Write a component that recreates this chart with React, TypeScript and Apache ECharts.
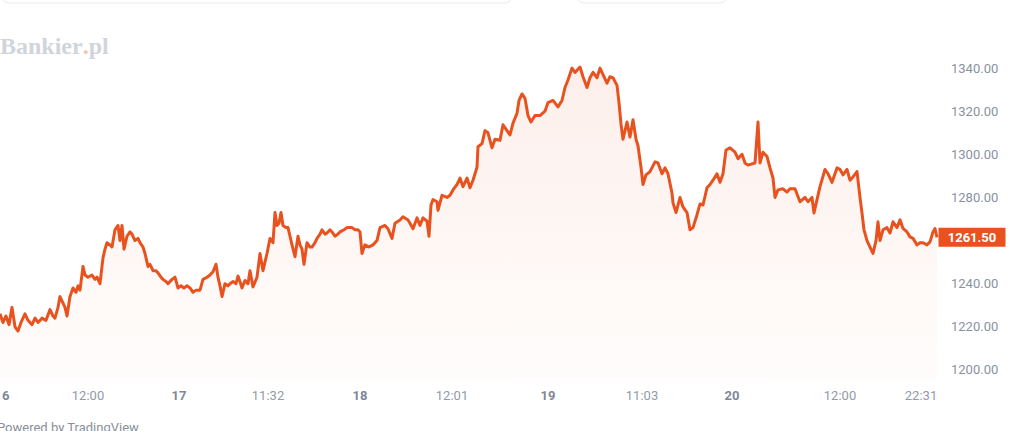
import React, { useEffect, useRef } from "react";
import * as echarts from "echarts";

// time slots (chart session positions) and prices
const slots: number[] = [
  0, 3, 6, 9, 12, 15, 18, 21, 25, 28, 32, 35, 38, 42, 46, 50, 53, 55, 58, 60, 63, 65, 67, 70, 73, 76, 78, 80, 83, 85, 88, 92, 95, 97,
  100, 103, 105, 107, 110, 112, 115, 118, 120, 122, 124, 127, 130, 132, 135, 138, 140, 143, 145, 148, 150, 153, 156, 158, 161, 163, 166, 168,
  172, 175, 178, 181, 184, 187, 190, 193, 196, 200, 203, 207, 210, 213, 216, 218, 220, 222, 225, 228, 230, 233, 236, 238, 240, 242, 245,
  248, 250, 253, 257, 260, 263, 267, 270, 273, 275, 277, 279, 281, 283, 286, 288, 290, 292, 295, 298, 300, 302, 304, 307, 310, 312, 315,
  317, 320, 322, 325, 327, 330, 332, 335, 338, 340, 344, 347, 350, 352, 355, 358, 360, 362, 365, 369, 373, 377, 380, 385, 388, 392, 395,
  400, 403, 408, 410, 413, 417, 420, 423, 427, 429, 431, 433, 437, 438, 442, 447, 450, 453, 457, 460, 463, 467, 470, 473, 477, 478, 482,
  485, 488, 492, 495, 500, 503, 507, 510, 513, 517, 519, 522, 525, 528, 531, 535, 540, 545, 548, 553, 558, 562, 565, 568, 572, 575, 580,
  583, 587, 590, 593, 597, 600, 603, 607, 610, 613, 617, 619, 621, 623, 627, 630, 633, 636, 638, 641, 643, 646, 650, 655, 658, 662, 665,
  668, 672, 673, 676, 680, 683, 687, 690, 693, 697, 700, 703, 707, 710, 713, 717, 720, 723, 726, 730, 735, 738, 742, 745, 748, 752, 755,
  758, 760, 763, 767, 770, 773, 775, 778, 783, 787, 790, 795, 800, 805, 808, 812, 814, 817, 820, 825, 828, 832, 837, 840, 843, 847, 850,
  853, 857, 860, 862, 864, 867, 870, 873, 876, 878, 880, 883, 887, 890, 893, 897, 900, 903, 907, 910, 913, 917, 920, 923, 927, 930, 933,
  935, 937,
];

const prices: number[] = [
  1226, 1222, 1225, 1221, 1229, 1220, 1218, 1222, 1226, 1223, 1221, 1224, 1222, 1224, 1223, 1228, 1225, 1224, 1229, 1234, 1231, 1229, 1225,
  1234, 1238, 1236, 1239, 1237, 1248, 1244, 1243, 1244, 1242, 1243,
  1240, 1252, 1256, 1259, 1258, 1257, 1265, 1267, 1260, 1267, 1256, 1262, 1264, 1263, 1260, 1261, 1259, 1257, 1254, 1248, 1249, 1246,
  1246, 1245, 1243, 1242, 1241, 1240,
  1242, 1243, 1238, 1239, 1238, 1239, 1238, 1236, 1237, 1237, 1242, 1243, 1244, 1245.5, 1249, 1243, 1239, 1234, 1240, 1239, 1240, 1241,
  1240, 1243.5, 1241, 1238, 1241.5,
  1240, 1246, 1238.5, 1243, 1254, 1246, 1254, 1261, 1259, 1273, 1267, 1268, 1273, 1267, 1266, 1266, 1262, 1258, 1252.5, 1262, 1258, 1256,
  1249, 1259, 1257, 1257, 1259,
  1261, 1263, 1265, 1263, 1263.5, 1265, 1264, 1262, 1263, 1264, 1265, 1266, 1266, 1266, 1265, 1265, 1264, 1254, 1258, 1257, 1258, 1260,
  1266, 1267, 1265.5, 1261, 1268,
  1269.5, 1271, 1269.5, 1268, 1265.5, 1270.5, 1267, 1270.5, 1269, 1262, 1276.5, 1279, 1278, 1274, 1281, 1280, 1281, 1283.5, 1286, 1289,
  1285, 1289, 1284.5, 1288, 1294, 1303.5, 1305,
  1311, 1310, 1303, 1307, 1306.5, 1313.7, 1311, 1309, 1314.5, 1319, 1325, 1328, 1326, 1318, 1315, 1318, 1318, 1320, 1324, 1325, 1322,
  1325, 1331, 1334.5, 1340, 1338, 1340.5,
  1336, 1331, 1335.5, 1338, 1335.5, 1340, 1337, 1333, 1336, 1335.5, 1332, 1324, 1314, 1307, 1315, 1308, 1316, 1307, 1304, 1294, 1286,
  1290.5, 1292, 1296.5, 1296, 1291, 1293.7,
  1291, 1282, 1277.5, 1273, 1280, 1275.6, 1273, 1265, 1266, 1272, 1277, 1276.5, 1284.5, 1286, 1288, 1291, 1287, 1291, 1302, 1303, 1301,
  1298, 1300, 1296, 1295, 1295.6, 1296,
  1315, 1296, 1301, 1299, 1293.7, 1289, 1280, 1283.5, 1284, 1282.5, 1284, 1284, 1278, 1280, 1278, 1280, 1272.8, 1279, 1285, 1293, 1291,
  1287, 1293.7, 1293, 1290.5, 1293, 1288,
  1289.5, 1292, 1280, 1272.8, 1265, 1260, 1257, 1254, 1260, 1268.7, 1260, 1265, 1266, 1263.5, 1268.7, 1266, 1269.6, 1265.6, 1264, 1261.7,
  1261, 1258, 1259, 1259, 1258, 1259.4, 1264,
  1265.6, 1261.5,
];

const totalSlots = 939;
const xTickSlots: number[] = [2, 88, 179, 268, 360, 452, 548, 642, 732, 840, 921];
const xTickLabels: string[] = ["16", "12:00", "17", "11:32", "18", "12:01", "19", "11:03", "20", "12:00", "22:31"];
const dayLabels: string[] = ["16", "17", "18", "19", "20"];
const yMin = 1180;
const yMax = 1360;
const yStep = 20;
const yLabelMin = 1200;
const yLabelMax = 1340;

const LINE = "#e8521f";

export default function App() {
  const ref = useRef<HTMLDivElement>(null);

  useEffect(() => {
    document.body.style.margin = "0";
    if (!ref.current) return;
    const chart = echarts.init(ref.current, undefined, { renderer: "svg" });

    const categories = Array.from({ length: totalSlots }, (_, i) => String(i));
    const tickMap = new Map<number, string>();
    xTickSlots.forEach((s, i) => tickMap.set(s, xTickLabels[i]));
    const data = slots.map((s, i) => [s, prices[i]]);
    const last = data[data.length - 1];
    const lastPrice = last[1];

    chart.setOption({
      animation: false,
      backgroundColor: "#ffffff",
      grid: { left: 0, right: 86, top: 25, bottom: 18, containLabel: false, outerBoundsMode: "none" },
      xAxis: {
        type: "category",
        data: categories,
        boundaryGap: false,
        axisLine: { show: false },
        axisTick: { show: false },
        splitLine: { show: false },
        axisLabel: {
          interval: (index: number) => tickMap.has(index),
          formatter: (value: string) => {
            const lab = tickMap.get(Number(value)) || "";
            return dayLabels.includes(lab) ? `{d|${lab}}` : `{t|${lab}}`;
          },
          margin: -18,
          verticalAlign: "middle",
          rich: {
            d: { fontFamily: "Roboto", fontSize: 13, fontWeight: "bold", color: "#7f8797" },
            t: { fontFamily: "Roboto", fontSize: 13, color: "#939aa8" },
          },
        },
      },
      yAxis: {
        type: "value",
        position: "right",
        min: yMin,
        max: yMax,
        interval: yStep,
        axisLine: { show: false },
        axisTick: { show: false },
        splitLine: { show: false },
        axisLabel: {
          margin: 13,
          fontFamily: "Roboto",
          fontSize: 13,
          color: "#8a92a2",
          formatter: (v: number) =>
            v >= yLabelMin && v <= yLabelMax && Math.abs(v - lastPrice) > 6 ? v.toFixed(2) : "",
        },
      },
      series: [
        {
          type: "line",
          data,
          symbol: "none",
          clip: false,
          lineStyle: { color: LINE, width: 3, join: "round" },
          itemStyle: { color: LINE },
          areaStyle: {
            origin: 1195.5,
            color: new echarts.graphic.LinearGradient(0, 0, 0, 1, [
              { offset: 0, color: "rgba(232,82,31,0.13)" },
              { offset: 1, color: "rgba(232,82,31,0.02)" },
            ]),
          },
          markPoint: {
            silent: true,
            symbol: "rect",
            symbolSize: [67, 19],
            symbolOffset: [35, 0],
            itemStyle: { color: LINE },
            label: {
              show: true,
              position: "inside",
              color: "#ffffff",
              fontFamily: "Roboto",
              fontWeight: "bold",
              fontSize: 13,
              formatter: (p: any) => Number(p.value).toFixed(2),
            },
            data: [{ coord: [last[0], last[1]], value: last[1] }],
          },
        },
      ],
      graphic: [
        {
          type: "rect",
          shape: { x: 2, y: -30, width: 510, height: 33, r: 7 },
          style: { fill: "#ffffff", stroke: "#e7e9ec", lineWidth: 1 },
        },
        {
          type: "rect",
          shape: { x: 577, y: -30, width: 150, height: 33, r: 7 },
          style: { fill: "#ffffff", stroke: "#e7e9ec", lineWidth: 1 },
        },
        {
          type: "text",
          x: 0,
          y: 46,
          style: {
            text: "{a|Bankier}{b|.}{a|pl}",
            verticalAlign: "middle",
            rich: {
              a: { fontFamily: "Liberation Serif", fontWeight: "bold", fontSize: 24, fill: "#d0d5dc" },
              b: { fontFamily: "Liberation Serif", fontWeight: "bold", fontSize: 24, fill: "#f4c3b2" },
            },
          },
        },
        {
          type: "text",
          x: -3,
          y: 427,
          style: {
            text: "Powered by TradingView",
            fontFamily: "Roboto",
            fontSize: 13,
            fill: "#8a8f99",
            verticalAlign: "middle",
          },
        },
      ],
    });

    return () => chart.dispose();
  }, []);

  return <div ref={ref} style={{ width: 1024, height: 431 }} />;
}
